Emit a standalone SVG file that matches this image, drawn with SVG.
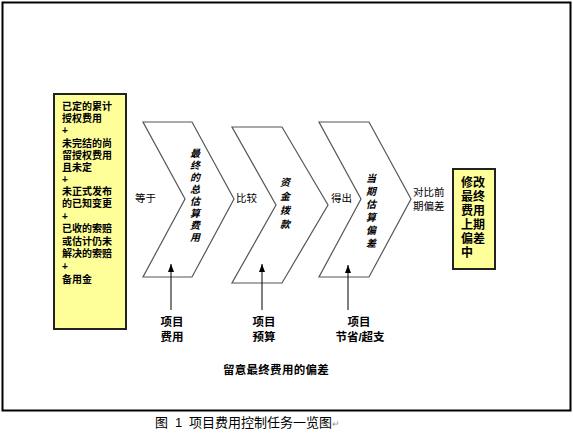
<svg xmlns="http://www.w3.org/2000/svg" width="573" height="433" viewBox="0 0 573 433">
<defs>
<style>
.t{font-family:"Liberation Sans","Noto Sans CJK SC",sans-serif;fill:#000}
.b{font-weight:bold}
.chev{fill:#fff;stroke:#555;stroke-width:1.2}
.box{fill:#ffff99;stroke:#222;stroke-width:2}
.arr{stroke:#000;stroke-width:1;fill:none}
.vt{font-weight:bold;font-style:italic;font-size:10px;text-anchor:middle}
</style>
<marker id="ah" viewBox="0 0 8 6" refX="8" refY="3" markerWidth="8" markerHeight="6" orient="auto" markerUnits="userSpaceOnUse">
<path d="M0,0 L8,3 L0,6 Z" fill="#000"/>
</marker>
</defs>
<rect x="0" y="0" width="573" height="433" fill="#fff"/>
<rect x="2.5" y="2.5" width="568" height="408" fill="#fff" stroke="#000" stroke-width="2"/>

<g id="box-left">
<rect class="box" x="54" y="94" width="72" height="235"/>
<text class="t b" font-size="10" x="62">
<tspan x="62" y="110">已定的累计</tspan>
<tspan x="62" y="121.5">授权费用</tspan>
<tspan x="62" y="133.5">+</tspan>
<tspan x="62" y="147">未完结的尚</tspan>
<tspan x="62" y="158.5">留授权费用</tspan>
<tspan x="62" y="171">且未定</tspan>
<tspan x="62" y="183">+</tspan>
<tspan x="62" y="194.5">未正式发布</tspan>
<tspan x="62" y="207">的已知变更</tspan>
<tspan x="62" y="220">+</tspan>
<tspan x="62" y="231.5">已收的索赔</tspan>
<tspan x="62" y="245">或估计仍未</tspan>
<tspan x="62" y="257">解决的索赔</tspan>
<tspan x="62" y="270">+</tspan>
<tspan x="62" y="283">备用金</tspan>
</text>
</g>

<g id="chevron-1">
<path class="chev" d="M143,122 L192,122 L234,199 L192,277 L143,277 L185,199 Z"/>
<text class="t vt" x="195">
<tspan x="195" y="157">最</tspan><tspan x="195" y="169">终</tspan><tspan x="195" y="181">的</tspan><tspan x="195" y="193">总</tspan><tspan x="195" y="205">估</tspan><tspan x="195" y="217">算</tspan><tspan x="195" y="229">费</tspan><tspan x="195" y="241">用</tspan>
</text>
</g>

<g id="chevron-2">
<path class="chev" d="M232,127 L282,127 L328,205 L282,283 L232,283 L276,205 Z"/>
<text class="t vt" x="285">
<tspan x="285" y="186">资</tspan><tspan x="285" y="200">金</tspan><tspan x="285" y="214">拨</tspan><tspan x="285" y="228">款</tspan>
</text>
</g>

<g id="chevron-3">
<path class="chev" d="M319,122 L369,122 L411,199 L369,277 L319,277 L361,199 Z"/>
<text class="t vt" x="371">
<tspan x="371" y="182">当</tspan><tspan x="371" y="195">期</tspan><tspan x="371" y="208">估</tspan><tspan x="371" y="221">算</tspan><tspan x="371" y="234">偏</tspan><tspan x="371" y="247">差</tspan>
</text>
</g>

<g id="box-right">
<rect class="box" x="453" y="169" width="42" height="100"/>
<text class="t b" font-size="12" x="461">
<tspan x="461" y="187">修改</tspan>
<tspan x="461" y="201">最终</tspan>
<tspan x="461" y="215">费用</tspan>
<tspan x="461" y="229">上期</tspan>
<tspan x="461" y="243">偏差</tspan>
<tspan x="461" y="257">中</tspan>
</text>
</g>

<g id="labels" class="t" font-size="10.5">
<text x="135" y="202">等于</text>
<text x="236" y="202">比较</text>
<text x="331" y="202">得出</text>
<text x="413" y="196">对比前</text>
<text x="413" y="210">期偏差</text>
</g>

<g id="connectors">
<line class="arr" x1="171" y1="310" x2="171" y2="264" marker-end="url(#ah)"/>
<line class="arr" x1="262" y1="310" x2="262" y2="264" marker-end="url(#ah)"/>
<line class="arr" x1="348" y1="310" x2="348" y2="265" marker-end="url(#ah)"/>
</g>

<g id="bottom-labels" class="t b" font-size="11.5" text-anchor="middle">
<text x="172" y="326">项目</text>
<text x="172" y="341">费用</text>
<text x="264" y="326">项目</text>
<text x="264" y="341">预算</text>
<text x="359" y="326">项目</text>
<text x="360" y="341">节省/超支</text>
<text x="276" y="374" letter-spacing="0.3">留意最终费用的偏差</text>
</g>

<text class="t" font-size="13" y="427"><tspan x="155">图</tspan><tspan x="175">1</tspan><tspan x="189">项目费用控制任务一览图</tspan><tspan fill="#999" font-size="9">↵</tspan></text>
</svg>
